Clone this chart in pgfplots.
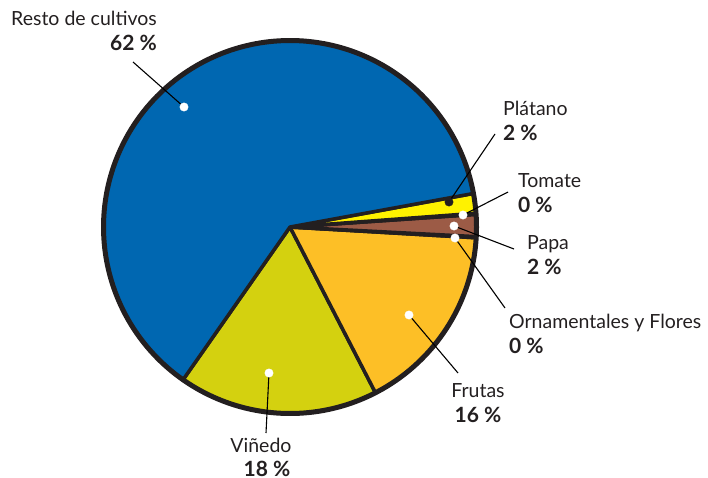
\documentclass[border=0pt]{standalone}
\usepackage{pgfplots}
\pgfplotsset{compat=1.18}
\usepackage{fontspec}
\setmainfont{Lato}
\definecolor{resto}{HTML}{0067B1}
\definecolor{platano}{HTML}{FFF200}
\definecolor{tomate}{HTML}{E5322D}
\definecolor{papa}{HTML}{9C5B46}
\definecolor{ornam}{HTML}{E58FB0}
\definecolor{frutas}{HTML}{FDBF26}
\definecolor{vinedo}{HTML}{D4D10F}
\definecolor{pieline}{HTML}{231F20}
\definecolor{txt}{HTML}{231F20}
% shares of each crop (percent), counter-clockwise from -125 deg
\pgfmathsetmacro\aA{-125}
\pgfmathsetmacro\aB{\aA+3.6*17.3} % Viñedo
\pgfmathsetmacro\aC{\aB+3.6*16.5} % Frutas
\pgfmathsetmacro\aD{\aC+3.6*0.1}  % Ornamentales y Flores
\pgfmathsetmacro\aE{\aD+3.6*1.9}  % Papa
\pgfmathsetmacro\aF{\aE+3.6*0.1}  % Tomate
\pgfmathsetmacro\aG{\aF+3.6*1.7}  % Plátano
\pgfmathsetmacro\aH{\aG+3.6*62.4} % Resto de cultivos
\newcommand{\lab}{\fontsize{19.5}{22}\selectfont\color{txt}}
\newcommand{\pct}{\fontsize{21}{24}\selectfont\bfseries\color{txt}}
\begin{document}
\begin{tikzpicture}
\begin{axis}[scale only axis, width=708pt, height=477pt,
  xmin=0, xmax=708, ymin=0, ymax=477, y dir=reverse,
  hide axis, clip=false,
  slice/.style={draw=pieline, line width=3.5pt, line join=round}]
\addplot[slice, fill=vinedo, domain=\aA:\aB, samples=60] ({290+186.5*cos(x)},{227-186.5*sin(x)}) -- (290,227) -- cycle;
\addplot[slice, fill=frutas, domain=\aB:\aC, samples=60] ({290+186.5*cos(x)},{227-186.5*sin(x)}) -- (290,227) -- cycle;
\addplot[slice, fill=ornam, domain=\aC:\aD, samples=2] ({290+186.5*cos(x)},{227-186.5*sin(x)}) -- (290,227) -- cycle;
\addplot[slice, fill=papa, domain=\aD:\aE, samples=10] ({290+186.5*cos(x)},{227-186.5*sin(x)}) -- (290,227) -- cycle;
\addplot[slice, fill=tomate, domain=\aE:\aF, samples=2] ({290+186.5*cos(x)},{227-186.5*sin(x)}) -- (290,227) -- cycle;
\addplot[slice, fill=platano, domain=\aF:\aG, samples=10] ({290+186.5*cos(x)},{227-186.5*sin(x)}) -- (290,227) -- cycle;
\addplot[slice, fill=resto, domain=\aG:\aH, samples=200] ({290+186.5*cos(x)},{227-186.5*sin(x)}) -- (290,227) -- cycle;
% outer rim
\addplot[draw=pieline, line width=5pt, domain=0:360, samples=240] ({290+186.5*cos(x)},{227-186.5*sin(x)}) -- cycle;
% leader lines
\addplot[black, line width=1.1pt] coordinates {(133,62) (184,107)};
\addplot[black, line width=1.1pt] coordinates {(495,134) (449,202)};
\addplot[black, line width=1.1pt] coordinates {(508,192) (463,215)};
\addplot[black, line width=1.1pt] coordinates {(514,249) (454,226)};
\addplot[black, line width=1.1pt] coordinates {(505,308) (455,238)};
\addplot[black, line width=1.1pt] coordinates {(458,373) (409,315)};
\addplot[black, line width=1.1pt] coordinates {(266,433) (269,373)};
% anchor dots
\addplot[only marks, color=white, mark=*, mark size=4.2pt] coordinates {(184,107) (463,215) (454,226) (455,238) (409,315) (269,373)};
\addplot[only marks, color=pieline, mark=*, mark size=4.2pt] coordinates {(449,202)};
% labels
\node[anchor=base west, inner sep=0] at (11,25) {\lab Resto de cultivos};
\node[anchor=base east, inner sep=0] at (157,50) {\pct 62 \%};
\node[anchor=base west, inner sep=0] at (503,115) {\lab Plátano};
\node[anchor=base west, inner sep=0] at (503,140) {\pct 2 \%};
\node[anchor=base west, inner sep=0] at (518,187) {\lab Tomate};
\node[anchor=base west, inner sep=0] at (518,212) {\pct 0 \%};
\node[anchor=base west, inner sep=0] at (527,249) {\lab Papa};
\node[anchor=base west, inner sep=0] at (527,274) {\pct 2 \%};
\node[anchor=base west, inner sep=0] at (509,328) {\lab Ornamentales y Flores};
\node[anchor=base west, inner sep=0] at (509,353) {\pct 0 \%};
\node[anchor=base, inner sep=0] at (478,397) {\lab Frutas};
\node[anchor=base, inner sep=0] at (478,422) {\pct 16 \%};
\node[anchor=base, inner sep=0] at (261,452) {\lab Viñedo};
\node[anchor=base, inner sep=0] at (267,476) {\pct 18 \%};
\end{axis}
\pgfresetboundingbox
\useasboundingbox (0,0) rectangle (708pt,477pt);
\end{tikzpicture}
\end{document}
